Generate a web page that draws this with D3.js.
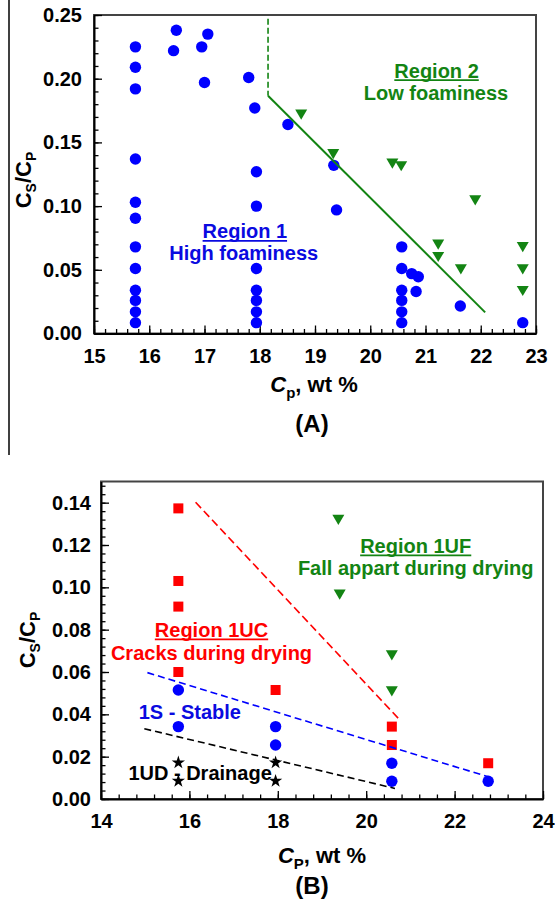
<!DOCTYPE html>
<html>
<head>
<meta charset="utf-8">
<script src="https://cdnjs.cloudflare.com/ajax/libs/d3/7.8.5/d3.min.js"></script>
<style>
    body { margin: 0; background: #fff; }
    svg { display: block; }
    text { font-family: "Liberation Sans", Arial, sans-serif; font-weight: bold; }
</style>
</head>
<body>
<script>
"use strict";

// ---- panel A data ----
var aBlueCp = [15.75, 15.75, 15.75, 15.75, 15.75, 15.75, 15.75, 15.75, 15.75, 15.75, 15.75, 15.75,
               16.49, 16.44, 16.95, 17.06, 17.0, 17.8, 17.91,
               17.94, 17.94, 17.94, 17.94, 17.94, 17.94, 17.94,
               18.51, 19.34, 19.39,
               20.57, 20.57, 20.57, 20.57, 20.57, 20.57,
               20.75, 20.87, 20.83, 21.63, 22.76];
var aBlueRatio = [0.0085, 0.017, 0.026, 0.034, 0.051, 0.068, 0.0905, 0.103, 0.137, 0.192, 0.209, 0.225,
                  0.238, 0.222, 0.225, 0.235, 0.197, 0.201, 0.177,
                  0.127, 0.100, 0.051, 0.034, 0.026, 0.017, 0.0085,
                  0.164, 0.132, 0.097,
                  0.068, 0.051, 0.034, 0.026, 0.017, 0.0085,
                  0.047, 0.0446, 0.033, 0.0216, 0.0085];
var aGreenCp = [18.75, 19.33, 20.4, 20.56, 21.9, 21.23, 21.23, 21.64, 22.76, 22.76, 22.76];
var aGreenRatio = [0.172, 0.141, 0.1336, 0.1315, 0.1048, 0.070, 0.0603, 0.0506, 0.068, 0.0506, 0.0336];
var aDashedBoundary = [[18.15, 0.247], [18.15, 0.1866]];
var aSolidBoundary = [[18.15, 0.1866], [22.08, 0.0166]];
var aXTicks = [15, 16, 17, 18, 19, 20, 21, 22, 23];
var aYTicks = [0, 0.05, 0.10, 0.15, 0.20, 0.25];

// ---- panel B data ----
var bRedCp = [15.75, 15.75, 15.75, 15.75, 17.95, 20.58, 20.58, 22.76];
var bRedRatio = [0.1373, 0.103, 0.0909, 0.060, 0.0515, 0.0342, 0.0255, 0.0169];
var bBlueCp = [15.75, 15.75, 17.95, 17.95, 20.58, 20.58, 22.76];
var bBlueRatio = [0.0515, 0.0342, 0.0342, 0.0255, 0.0169, 0.0084, 0.0084];
var bGreenCp = [19.37, 19.40, 20.58, 20.58];
var bGreenRatio = [0.132, 0.0967, 0.068, 0.051];
var bStarCp = [15.75, 15.75, 17.95, 17.95];
var bStarRatio = [0.0172, 0.0085, 0.0172, 0.0085];
var bRedLine = [[16.14, 0.1402], [20.74, 0.0378]];
var bBlueLine = [[15.05, 0.0597], [22.76, 0.0105]];
var bBlackLine = [[14.98, 0.0332], [20.65, 0.0050]];
var bXTicks = [14, 16, 18, 20, 22, 24];
var bYTicks = [0, 0.02, 0.04, 0.06, 0.08, 0.10, 0.12, 0.14];

var BLUE = "#0000ff",
    GREEN = "#138413",
    RED = "#ff0000";

var svg = d3.select("body").append("svg")
    .attr("width", 555)
    .attr("height", 907);

// stray vertical rule on the left of the top panel
svg.append("line")
    .attr("x1", 9).attr("x2", 9)
    .attr("y1", 0).attr("y2", 455)
    .attr("stroke", "#000")
    .attr("stroke-width", 1.5);

function zip(a, b) {
    var out = [];
    for (var i = 0; i < a.length; i++) {
        out.push([a[i], b[i]]);
    }
    return out;
}

function drawAxes(g, x, y, xTicks, xMinor, yTicks, yMinor, yPad) {
    var left = x.range()[0], right = x.range()[1],
        bottom = y.range()[0], top = y.range()[1];

    g.append("rect")
        .attr("x", left).attr("y", top)
        .attr("width", right - left).attr("height", bottom - top)
        .attr("fill", "none")
        .attr("stroke", "#444")
        .attr("stroke-width", 2);

    g.append("g")
        .attr("transform", "translate(0," + bottom + ")")
        .call(d3.axisBottom(x).tickValues(xMinor).tickFormat("").tickSizeInner(-4.5).tickSizeOuter(0))
        .call(function(s) { s.select(".domain").remove(); });

    g.append("g")
        .attr("transform", "translate(" + left + ",0)")
        .call(d3.axisLeft(y).tickValues(yMinor).tickFormat("").tickSizeInner(-4.5).tickSizeOuter(0))
        .call(function(s) { s.select(".domain").remove(); });

    var xa = g.append("g")
        .attr("transform", "translate(0," + bottom + ")")
        .call(d3.axisBottom(x).tickValues(xTicks).tickFormat(d3.format("d"))
            .tickSizeInner(-8).tickSizeOuter(0).tickPadding(15));

    var ya = g.append("g")
        .attr("transform", "translate(" + left + ",0)")
        .call(d3.axisLeft(y).tickValues(yTicks).tickFormat(d3.format(".2f"))
            .tickSizeInner(-8).tickSizeOuter(0).tickPadding(yPad));

    g.selectAll(".tick line").attr("stroke", "#000").attr("stroke-width", 1.3);
    [xa, ya].forEach(function(a) {
        a.select(".domain").attr("stroke", "#000").attr("stroke-width", 2);
        a.selectAll("text")
            .style("font-size", "20px")
            .style("font-weight", "bold")
            .style("font-family", "'Liberation Sans', Arial, sans-serif")
            .attr("fill", "#000");
    });
}

function yTitle(g, cx, cy, sub) {
    var t = g.append("text")
        .attr("transform", "translate(" + cx + "," + cy + ") rotate(-90)")
        .attr("text-anchor", "middle")
        .style("font-size", "22px");
    t.append("tspan").text("C");
    t.append("tspan").attr("dy", 5).style("font-size", "14px").text("S");
    t.append("tspan").attr("dy", -5).text("/C");
    t.append("tspan").attr("dy", 5).style("font-size", "14px").text(sub);
}

function xTitle(g, cx, cy, sub) {
    var t = g.append("text")
        .attr("x", cx).attr("y", cy)
        .attr("text-anchor", "middle")
        .style("font-size", "22px");
    t.append("tspan").style("font-style", "italic").text("C");
    t.append("tspan").attr("dy", 6).style("font-size", "15px").text(sub);
    t.append("tspan").attr("dy", -6).text(", wt %");
}

function label(g, x, y, cx, cy, str, color, underline, anchor) {
    var t = g.append("text")
        .attr("x", x(cx)).attr("y", y(cy))
        .attr("text-anchor", anchor || "middle")
        .attr("fill", color)
        .style("font-size", "20px")
        .text(str);
    if (underline) {
        var b = t.node().getBBox();
        g.append("line")
            .attr("x1", b.x).attr("x2", b.x + b.width)
            .attr("y1", y(cy) + 2.5).attr("y2", y(cy) + 2.5)
            .attr("stroke", color)
            .attr("stroke-width", 1.7);
    }
}

function dots(g, x, y, pts, color) {
    g.append("g").selectAll("circle")
        .data(pts)
        .enter().append("circle")
            .attr("cx", function(d) { return x(d[0]); })
            .attr("cy", function(d) { return y(d[1]); })
            .attr("r", 5.7)
            .attr("fill", color);
}

function downTriangles(g, x, y, pts, color) {
    g.append("g").selectAll("path")
        .data(pts)
        .enter().append("path")
            .attr("d", function(d) {
                var cx = x(d[0]), cy = y(d[1]);
                return "M" + (cx - 6) + "," + (cy - 4.8) +
                       "L" + (cx + 6) + "," + (cy - 4.8) +
                       "L" + cx + "," + (cy + 5.4) + "Z";
            })
            .attr("fill", color);
}

function squares(g, x, y, pts, color) {
    g.append("g").selectAll("rect")
        .data(pts)
        .enter().append("rect")
            .attr("x", function(d) { return x(d[0]) - 5; })
            .attr("y", function(d) { return y(d[1]) - 5; })
            .attr("width", 10)
            .attr("height", 10)
            .attr("fill", color);
}

function stars(g, x, y, pts) {
    g.append("g").selectAll("path")
        .data(pts)
        .enter().append("path")
            .attr("d", d3.symbol(d3.symbolStar, 55))
            .attr("transform", function(d) { return "translate(" + x(d[0]) + "," + y(d[1]) + ")"; })
            .attr("fill", "#000");
}

function segment(g, x, y, pts, color, dash, w) {
    var line = d3.line()
        .x(function(d) { return x(d[0]); })
        .y(function(d) { return y(d[1]); });
    g.append("path")
        .attr("d", line(pts))
        .attr("fill", "none")
        .attr("stroke", color)
        .attr("stroke-width", w || 1.8)
        .attr("stroke-dasharray", dash || null);
}

// ================= panel A =================
var xA = d3.scaleLinear().domain([15, 23]).range([94, 536]);
var yA = d3.scaleLinear().domain([0, 0.25]).range([333.5, 15]);
var gA = svg.append("g");

drawAxes(gA, xA, yA, aXTicks,
    d3.range(150, 231, 2).map(function(v) { return v / 10; }),
    aYTicks,
    d3.range(0, 26, 1).map(function(v) { return v / 100; }),
    12);

dots(gA, xA, yA, zip(aBlueCp, aBlueRatio), BLUE);
downTriangles(gA, xA, yA, zip(aGreenCp, aGreenRatio), GREEN);
segment(gA, xA, yA, aDashedBoundary, GREEN, "6,3", 1.6);
segment(gA, xA, yA, aSolidBoundary, GREEN, null, 2);

label(gA, xA, yA, 21.20, 0.2009, "Region 2", GREEN, true);
label(gA, xA, yA, 21.19, 0.1829, "Low foaminess", GREEN, false);
label(gA, xA, yA, 17.73, 0.0746, "Region 1", "#0a0ae0", true);
label(gA, xA, yA, 17.71, 0.0577, "High foaminess", "#0a0ae0", false);

yTitle(gA, 31, 180, "P");
xTitle(gA, 314, 392, "p");
gA.append("text")
    .attr("x", 312).attr("y", 432)
    .attr("text-anchor", "middle")
    .style("font-size", "24px")
    .text("(A)");

// ================= panel B =================
var xB = d3.scaleLinear().domain([14, 24]).range([101, 543]);
var yB = d3.scaleLinear().domain([0, 0.15]).range([799, 481.5]);
var gB = svg.append("g");

drawAxes(gB, xB, yB, bXTicks,
    d3.range(140, 241, 4).map(function(v) { return v / 10; }),
    bYTicks,
    d3.range(0, 151, 4).map(function(v) { return v / 1000; }),
    10);

squares(gB, xB, yB, zip(bRedCp, bRedRatio), RED);
dots(gB, xB, yB, zip(bBlueCp, bBlueRatio), BLUE);
downTriangles(gB, xB, yB, zip(bGreenCp, bGreenRatio), GREEN);
stars(gB, xB, yB, zip(bStarCp, bStarRatio));

segment(gB, xB, yB, bRedLine, RED, "8,4", 1.6);
segment(gB, xB, yB, bBlueLine, BLUE, "7,4", 1.6);
segment(gB, xB, yB, bBlackLine, "#000", "7,4", 1.6);

label(gB, xB, yB, 21.12, 0.1163, "Region 1UF", GREEN, true);
label(gB, xB, yB, 21.12, 0.1058, "Fall appart during drying", GREEN, false);
label(gB, xB, yB, 16.50, 0.0766, "Region 1UC", RED, true);
label(gB, xB, yB, 16.50, 0.0659, "Cracks during drying", RED, false);
label(gB, xB, yB, 16.01, 0.0380, "1S - Stable", "#0a0ae0", false);
label(gB, xB, yB, 14.62, 0.0090, "1UD - Drainage", "#000", false, "start");

yTitle(gB, 35, 640, "P");
xTitle(gB, 322, 863, "P");
gB.append("text")
    .attr("x", 312).attr("y", 894)
    .attr("text-anchor", "middle")
    .style("font-size", "24px")
    .text("(B)");
</script>
</body>
</html>
